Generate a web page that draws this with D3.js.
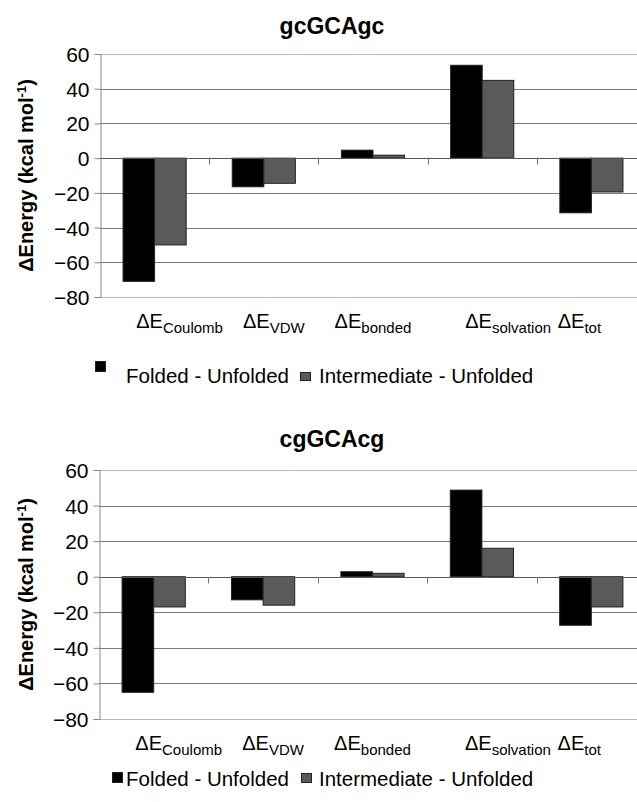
<!DOCTYPE html>
<html>
<head>
<meta charset="utf-8">
<script src="https://cdn.jsdelivr.net/npm/d3@7"></script>
<style>
  body { margin: 0; background: #fff; }
  svg text { font-family: "Liberation Sans", Arial, sans-serif; fill: #000; }
</style>
</head>
<body>
<svg id="fig" width="637" height="802"></svg>
<script>
// categories (Delta E terms) and their subscripts
const categories = ["Coulomb", "VDW", "bonded", "solvation", "tot"];
const seriesNames = ["Folded - Unfolded", "Intermediate - Unfolded"];
const seriesColors = ["#000000", "#5a5a5a"];
const yTicks = [60, 40, 20, 0, -20, -40, -60, -80];

// gcGCAgc panel
const gcFolded = [-71, -16.5, 4.6, 53.5, -31.5];
const gcIntermediate = [-50, -14.5, 1.7, 44.8, -19.5];

// cgGCAcg panel
const cgFolded = [-65, -13, 2.8, 48.7, -27.3];
const cgIntermediate = [-17, -16, 1.9, 16, -17];

// label nudges seen in the figure (Excel places them a bit unevenly)
const labelShift = [25, 10, 0, 26, -12];

function drawPanel(svg, cfg) {
  const left = cfg.left, right = 646;
  const top = cfg.top, bottom = cfg.bottom;

  const y = d3.scaleLinear().domain([-80, 60]).range([bottom, top]);
  const x0 = d3.scaleBand().domain(categories).range([left, right]);
  const x1 = d3.scaleBand().domain([0, 1]).range([0, x0.bandwidth()]).paddingOuter(0.73);

  const g = svg.append("g");

  // title
  g.append("text")
    .attr("x", 332)
    .attr("y", cfg.titleY)
    .attr("text-anchor", "middle")
    .style("font-size", "23px")
    .style("font-weight", "bold")
    .text(cfg.title);

  // gridlines
  g.append("g")
    .selectAll("line")
    .data(yTicks)
    .join("line")
    .attr("x1", left)
    .attr("x2", right)
    .attr("y1", d => Math.round(y(d)) + 0.5)
    .attr("y2", d => Math.round(y(d)) + 0.5)
    .attr("stroke", d => (d === 60 || d === -80) ? "#b8b8b8" : "#7a7a7a")
    .attr("stroke-width", 1);

  // bars
  const series = [cfg.folded, cfg.intermediate];
  series.forEach((vals, si) => {
    g.append("g")
      .selectAll("rect")
      .data(vals)
      .join("rect")
      .attr("x", (d, i) => x0(categories[i]) + x1(si))
      .attr("width", x1.bandwidth())
      .attr("y", d => y(Math.max(0, d)))
      .attr("height", d => Math.abs(y(d) - y(0)))
      .attr("fill", seriesColors[si])
      .attr("stroke", "#222")
      .attr("stroke-width", 1);
  });

  // zero line with category ticks
  const y0 = Math.round(y(0)) + 0.5;
  g.append("line")
    .attr("x1", left).attr("x2", right)
    .attr("y1", y0).attr("y2", y0)
    .attr("stroke", "#555");
  g.append("g")
    .selectAll("line")
    .data(categories.slice(1))
    .join("line")
    .attr("x1", d => Math.round(x0(d)) + 0.5)
    .attr("x2", d => Math.round(x0(d)) + 0.5)
    .attr("y1", y0)
    .attr("y2", y0 + 6)
    .attr("stroke", "#777");

  // y axis
  const yAxis = g.append("g")
    .attr("transform", "translate(" + (left + 0.5) + ",0)")
    .call(d3.axisLeft(y).tickValues(yTicks).tickSize(6).tickPadding(5));
  yAxis.select(".domain").attr("stroke", "#888");
  yAxis.selectAll(".tick line").attr("stroke", "#888");
  yAxis.selectAll(".tick text")
    .style("font-size", "21px")
    .attr("dy", "0.36em");

  // y axis label
  const yl = g.append("text")
    .attr("transform", "translate(" + 33 + "," + ((top + bottom) / 2) + ") rotate(-90)")
    .attr("text-anchor", "middle")
    .style("font-size", "20px")
    .style("font-weight", "bold");
  yl.append("tspan").text("\u0394Energy (kcal mol");
  yl.append("tspan").attr("dy", -7).style("font-size", "13px").text("-1");
  yl.append("tspan").attr("dy", 7).text(")");

  // category labels
  categories.forEach((c, i) => {
    const t = g.append("text")
      .attr("x", x0(c) + x0.bandwidth() / 2 + labelShift[i])
      .attr("y", bottom + 31)
      .attr("text-anchor", "middle")
      .style("font-size", "20px");
    t.append("tspan").text("\u0394E");
    t.append("tspan").attr("dy", 5).style("font-size", "15px").text(c);
  });

  // legend
  const lg = g.append("g");
  cfg.legend.forEach((it, i) => {
    lg.append("rect")
      .attr("x", it.sx).attr("y", it.sy)
      .attr("width", it.sw).attr("height", it.sh)
      .attr("fill", seriesColors[i])
      .attr("stroke", "#222");
    lg.append("text")
      .attr("x", it.tx).attr("y", cfg.legendY)
      .style("font-size", "20.5px")
      .text(seriesNames[i]);
  });
}

const svg = d3.select("#fig");

drawPanel(svg, {
  title: "gcGCAgc", titleY: 34,
  left: 100, top: 54, bottom: 297,
  folded: gcFolded, intermediate: gcIntermediate,
  legendY: 383,
  legend: [
    { sx: 95.5, sy: 361.5, sw: 10, sh: 10, tx: 126 },
    { sx: 300.5, sy: 372.5, sw: 10, sh: 8, tx: 319 }
  ]
});

drawPanel(svg, {
  title: "cgGCAcg", titleY: 447,
  left: 99, top: 470, bottom: 719,
  folded: cgFolded, intermediate: cgIntermediate,
  legendY: 786,
  legend: [
    { sx: 112.5, sy: 772.5, sw: 10, sh: 10, tx: 126 },
    { sx: 301.5, sy: 773.5, sw: 10, sh: 9, tx: 319 }
  ]
});
</script>
</body>
</html>
